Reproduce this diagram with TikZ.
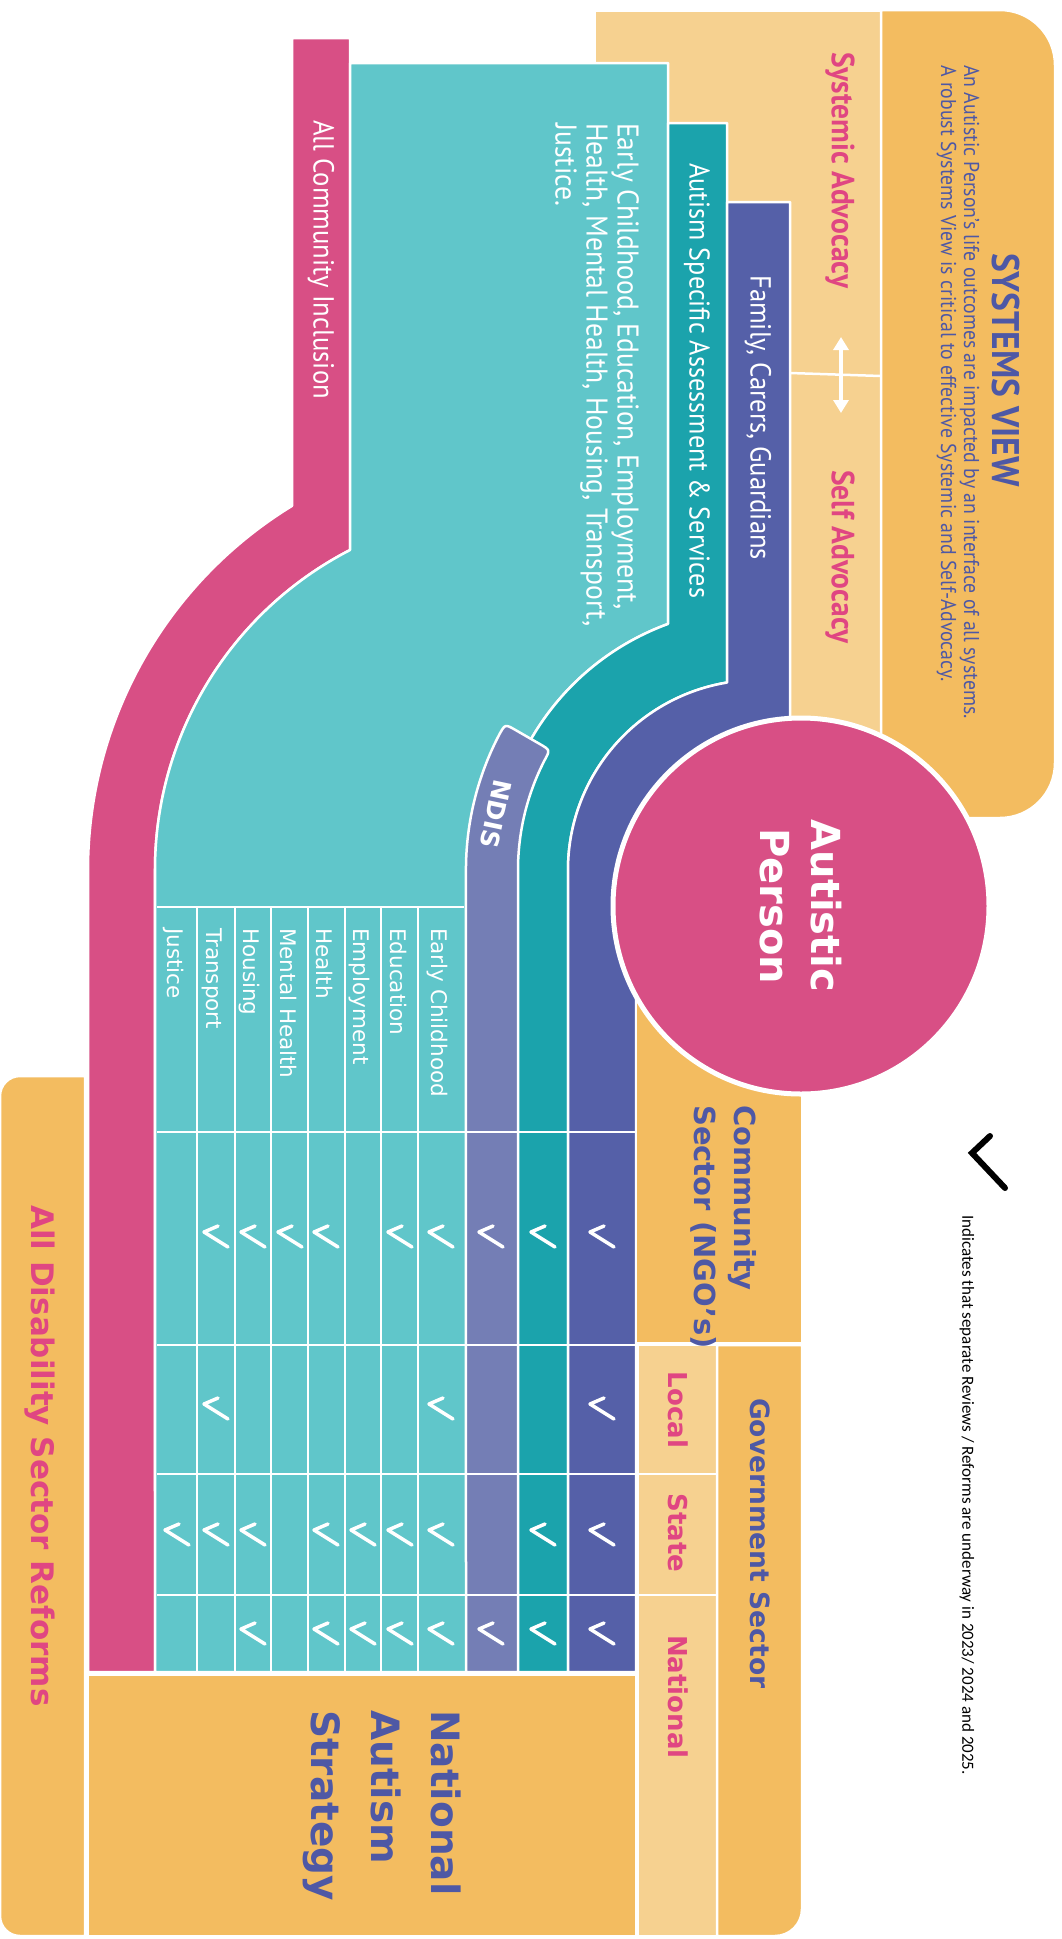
\documentclass[tikz,border=0pt]{standalone}
\usepackage{fontspec}
\setmainfont{DejaVu Sans}
\newfontfamily\condfont[FakeStretch=0.92]{PT Sans}
\newfontfamily\notefont{Carlito}
\usetikzlibrary{arrows.meta}

\definecolor{sysorange}{HTML}{F3BC60}
\definecolor{paleorange}{HTML}{F6D190}
\definecolor{rosepink}{HTML}{D84F85}
\definecolor{aqua}{HTML}{60C6CA}
\definecolor{deepteal}{HTML}{1BA3AC}
\definecolor{famblue}{HTML}{5560A8}
\definecolor{ndisblue}{HTML}{747EB5}
\definecolor{headblue}{HTML}{4E58A5}
\definecolor{headpink}{HTML}{E04682}

\tikzset{
  band/.style={draw=white, line width=2.5pt, line join=round},
  gridline/.style={white, line width=2.5pt},
  tickmark/.style={white, line width=3.5pt, line cap=round, line join=round},
  bandlabel/.style={text=white, font=\condfont\fontsize{29}{31}\selectfont, anchor=west, inner sep=0pt, align=left},
  collabel/.style={text=white, font=\fontsize{21.5}{25}\selectfont, anchor=base west, inner sep=0pt},
  sectorlabel/.style={text=headblue, font=\bfseries\fontsize{29}{40}\selectfont, anchor=west, align=left, inner sep=0pt},
  levellabel/.style={text=headpink, font=\bfseries\fontsize{26}{30}\selectfont, inner sep=0pt},
  advlabel/.style={text=headpink, font=\condfont\bfseries\fontsize{32}{36}\selectfont, anchor=west, inner sep=0pt},
  person/.style={circle, fill=rosepink, draw=white, line width=5pt, minimum size=376pt, inner sep=0pt,
    text=white, align=center, font=\bfseries\fontsize{40}{51}\selectfont},
}

\begin{document}
\begin{tikzpicture}[x=1pt, y=1pt, rotate=-90, transform shape]
\useasboundingbox (0,0) rectangle (1939,1062);
\fill[white] (0,0) rectangle (1939,1062);

% systems view and advocacy
\fill[paleorange] (12,596) rectangle (800,881);
\path[band, fill=sysorange] (10,881) -- (10,1000) arc[start angle=180, end angle=90, radius=55]
  -- (763,1055) arc[start angle=90, end angle=0, radius=55] -- (818,881) -- cycle;
\draw[gridline] (373,790) -- (376,881);

% bands
\path[band, fill=rosepink] (38,292) -- (38,350) -- (550,350) arc[start angle=207.28, end angle=270, radius=360]
  -- (1672,155) -- (1672,88) -- (870,88) arc[start angle=270, end angle=211.48, radius=427] -- cycle;
\path[band, fill=aqua] (63,350) -- (63,668) -- (623.9,668) arc[start angle=200.09, end angle=270, radius=262]
  -- (1672,496) -- (1672,155) -- (870,155) arc[start angle=270, end angle=207.28, radius=360] -- cycle;
\path[band, fill=deepteal] (123,668) -- (123,727) -- (682.5,727) arc[start angle=189.39, end angle=270, radius=190]
  -- (1672,568) -- (1672,496) -- (870,496) arc[start angle=270, end angle=200.09, radius=262] -- cycle;
\path[band, fill=famblue] (202,727) -- (202,790) -- (870,790) -- (870,636) -- (1672,636) -- (1672,568)
  -- (870,568) arc[start angle=270, end angle=189.39, radius=190] -- cycle;
\path[band, fill=ndisblue] (734.5,499.3) arc[start angle=242.36, end angle=270, radius=292]
  -- (1672,466) -- (1672,518) -- (870,518) arc[start angle=270, end angle=242.87, radius=240]
  .. controls (750,550.2) .. (744,539.8) -- (730,515.5) .. controls (724,505.1) .. (734.5,499.3) -- cycle;

% table
\draw[gridline] (907,157) -- (907,464);
\foreach \r in {1132,1345,1474,1595} \draw[gridline] (\r,157) -- (\r,636);
\foreach \c in {197,235,271,308,345,381,418} \draw[gridline] (907,\c) -- (1672,\c);

% sectors
\path[band, fill=sysorange] (950,636) rectangle (1343,802);
\path[band, fill=paleorange] (1345,638) rectangle (1474,717);
\path[band, fill=paleorange] (1474,638) rectangle (1595,717);
\path[band, fill=paleorange] (1595,638) rectangle (1936,717);
\path[band, fill=sysorange] (1345,717) -- (1345,802) -- (1909,802) arc[start angle=90, end angle=0, radius=27]
  -- (1936,717) -- cycle;
\path[band, fill=sysorange] (1675,88) rectangle (1936,636);
\path[band, fill=sysorange] (1076,85) -- (1076,20) arc[start angle=180, end angle=270, radius=20]
  -- (1916,0) arc[start angle=270, end angle=360, radius=20] -- (1936,85) -- cycle;

\node[person] (autistic) at (906,801) {Autistic\\Person};

% texts
\node[text=headblue, font=\condfont\bfseries\fontsize{38.5}{40}\selectfont] (sys_title) at (370,1006) {SYSTEMS VIEW};
\node[text=headblue, font=\condfont\fontsize{21.5}{23}\selectfont, anchor=west, align=left, inner sep=0pt] (sys_text) at (65,958)
  {An Autistic Person’s life outcomes are impacted by an interface of all systems.\\A robust Systems View is critical to effective Systemic and Self-Advocacy.};
\node[advlabel] (systemic_lbl) at (52,840) {Systemic Advocacy};
\node[advlabel] (self_lbl) at (470,840) {Self Advocacy};
\coordinate (adv_top) at (337,841);
\coordinate (adv_bot) at (413,841);
\draw[white, line width=4pt, {Triangle[width=15pt,length=13pt]}-{Triangle[width=15pt,length=13pt]}] (adv_top) -- (adv_bot);

\node[bandlabel] (family_lbl) at (275,758) {Family, Carers, Guardians};
\node[bandlabel, font=\condfont\fontsize{28.5}{31}\selectfont] (autism_lbl) at (163,697) {Autism Specific Assessment \& Services};
\node[bandlabel, font=\condfont\fontsize{30}{31}\selectfont] (services_lbl) at (123,597) {Early Childhood, Education, Employment,\\Health, Mental Health, Housing, Transport,\\Justice.};
\node[bandlabel] (inclusion_lbl) at (120,321) {All Community Inclusion};
\node[text=white, font=\bfseries\fontsize{25}{28}\selectfont, rotate=-12, inner sep=0pt] (ndis_lbl) at (814,496) {NDIS};

\foreach \lbl/\v in {Early Childhood/441, Education/400, Employment/363, Health/326,
                    Mental Health/290, Housing/253, Transport/216, Justice/177}
  \node[collabel] (col_\v) at (928,\v-10) {\lbl};

\foreach \r/\cols in {1236/{441,400,326,290,253,216,491,543,602},
                      1408/{441,216,602},
                      1534/{441,400,363,326,253,216,177,543,602},
                      1633/{441,400,363,326,253,491,543,602}}
  \foreach \c in \cols
    \draw[tickmark, shift={(\r,\c)}] (-10,2) -- (-4,-12) -- (11,12);

\node[sectorlabel] (community_lbl) at (1105,724) {Community\\Sector (NGO’s)};
\node[sectorlabel, font=\bfseries\fontsize{26.5}{30}\selectfont] (gov_lbl) at (1398,760) {Government Sector};
\node[levellabel] (local_lbl) at (1410,678) {Local};
\node[levellabel] (state_lbl) at (1533,678) {State};
\node[levellabel, anchor=west] (national_lbl) at (1635,678) {National};
\node[sectorlabel, font=\bfseries\fontsize{39}{60}\selectfont] (nas_lbl) at (1710,382) {National\\Autism\\Strategy};
\node[text=headpink, font=\bfseries\fontsize{31}{34}\selectfont, anchor=west, inner sep=0pt] (reforms_lbl) at (1205,40) {All Disability Sector Reforms};

% legend
\draw[black, line width=6pt, line cap=round, line join=miter] (1136,990) -- (1153,972) -- (1188,1005);
\node[font=\notefont\fontsize{17}{20}\selectfont, anchor=west, inner sep=0pt] (note_lbl) at (1215,967)
  {Indicates that separate Reviews / Reforms are underway in 2023/ 2024 and 2025.};
\end{tikzpicture}
\end{document}
